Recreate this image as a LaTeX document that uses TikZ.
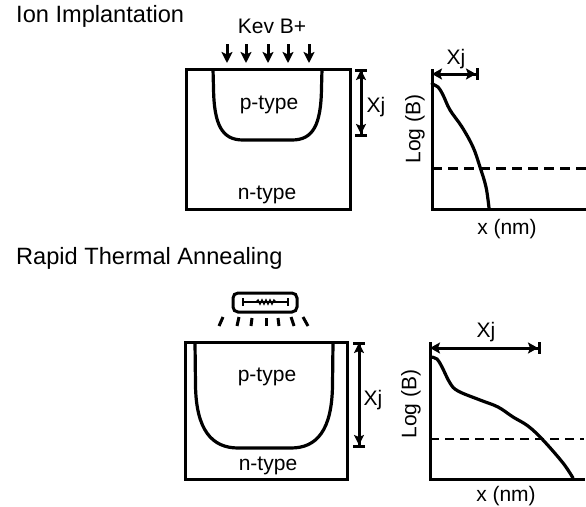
\documentclass[tikz,border=0pt]{standalone}
\usepackage{fontspec}
\setmainfont{Liberation Sans}
\usetikzlibrary{arrows.meta}
\tikzset{
  lbl/.style={inner sep=0pt,font=\fontsize{21}{24}\selectfont},
  ttl/.style={inner sep=0pt,anchor=west,font=\fontsize{23.6}{27}\selectfont},
  thick line/.style={line width=3.2pt},
  boxline/.style={line width=3pt,line join=miter},
  prof/.style={line width=3.2pt,line cap=round},
  dim/.style={line width=3pt,{Bar[width=12pt,line width=3pt]Stealth[length=10pt,width=10pt,inset=2pt,sep=-2pt]}-{Stealth[length=10pt,width=10pt,inset=2pt]Bar[width=12pt,line width=3pt]}},
  dimx/.style={line width=3pt,{Stealth[length=10pt,width=11pt,inset=2pt]}-{Stealth[length=10pt,width=11pt,inset=2pt]Bar[width=12pt,line width=3pt]}},
  dash line/.style={line width=3pt,dash pattern=on 10pt off 6pt},
  ion/.style={line width=3pt,-{Stealth[length=11pt,width=11pt,inset=2.5pt]}},
  ray/.style={line width=3pt},
}
\begin{document}
\begin{tikzpicture}[x=1pt,y=-1pt]
\useasboundingbox (0,0) rectangle (586,506);
% titles
\node[ttl] (t1) at (16,16) {Ion Implantation};
\node[ttl] (t2) at (16,258) {Rapid Thermal Annealing};
% top device
\node[lbl] (kev) at (272,26.5) {Kev B+};
\foreach \n/\x in {a/227,b/246,c/268,d/288,e/309}{
  \coordinate (s\n) at (\x,44);
  \coordinate (f\n) at (\x,63);
  \draw[ion] (s\n) -- (f\n);
}
\draw[boxline] (186,69) rectangle (350,209);
\draw[thick line] (213,69) -- (213.5,88) .. controls (214,125) and (222,140) .. (243,140)
  -- (292,140) .. controls (313,140) and (321,125) .. (321.5,88) -- (322,69);
\node[lbl] (p1) at (269,105) {p-type};
\node[lbl] (n1) at (267,195) {n-type};
\coordinate (d1a) at (361,69);
\coordinate (d1b) at (361,137);
\draw[dim] (d1a) -- (d1b);
\node[lbl] (x1) at (376,107.5) {Xj};
% top profile
\coordinate (o1) at (432,209);
\coordinate (y1) at (432,69);
\coordinate (r1) at (586,209);
\draw[boxline] (y1) -- (o1) -- (r1);
\coordinate (dl1) at (432,168);
\coordinate (dr1) at (586,168);
\draw[dash line] (dl1) -- (dr1);
\coordinate (a1a) at (432,74);
\coordinate (a1b) at (479,74);
\draw[dimx] (a1a) -- (a1b);
\node[lbl] (xt1) at (456,59) {Xj};
\draw[prof] plot[smooth,tension=0.6] coordinates {(432,84) (438,87) (443,95) (450,110) (462,127) (473,147) (480,167) (486,187) (489,208)};
\node[lbl,rotate=90] (lb1) at (415,129) {Log (B)};
\node[lbl] (xn1) at (507,229) {x (nm)};
% lamp
\draw[line width=3pt,rounded corners=5pt] (233,293) rectangle (297,312);
\coordinate (la) at (242,302);
\coordinate (lb) at (289,302);
\draw[line width=2pt,{Bar[width=8pt,line width=2pt]}-{Bar[width=8pt,line width=2pt]}] (la) -- (lb);
\draw[line width=1.4pt] (256,302) -- (258,300) -- (260,304) -- (262,300) -- (264,304) -- (266,300) -- (268,304) -- (270,300) -- (272,304) -- (274,300) -- (276,302);
\foreach \n/\xa/\ya/\xb/\yb in {1/219/326/223/317,2/237/326/239/317,3/251/326/252/318,4/266/326/266/318,5/279/326/278/318,6/294/326/291/317,7/308/326/303/317}{
  \coordinate (ra\n) at (\xa,\ya);
  \coordinate (rb\n) at (\xb,\yb);
  \draw[ray] (ra\n) -- (rb\n);
}
% bottom device
\draw[boxline] (185,342) rectangle (347,479);
\draw[thick line] (195,342) -- (195.5,385) .. controls (196,430) and (212,448) .. (238,448)
  -- (291,448) .. controls (317,448) and (332,430) .. (332.5,385) -- (333,342);
\node[lbl] (p2) at (267,377) {p-type};
\node[lbl] (n2) at (268,466) {n-type};
\coordinate (d2a) at (359,342);
\coordinate (d2b) at (359,448);
\draw[dim] (d2a) -- (d2b);
\node[lbl] (x2) at (373,400) {Xj};
% bottom profile
\coordinate (o2) at (430,479);
\coordinate (y2) at (430,342);
\coordinate (r2) at (585,479);
\draw[boxline] (y2) -- (o2) -- (r2);
\coordinate (dl2) at (430,439);
\coordinate (dr2) at (584,439);
\draw[dash line,line width=2.8pt,dash pattern=on 9pt off 6pt] (dl2) -- (dr2);
\coordinate (a2a) at (430,348);
\coordinate (a2b) at (541,348);
\draw[dimx] (a2a) -- (a2b);
\node[lbl] (xt2) at (486,332) {Xj};
\draw[prof] plot[smooth,tension=0.6] coordinates {(431,357) (437,359) (442,367) (450,383) (458,391) (480,400) (498,407) (513,417) (528,426) (543,440) (563,463) (573,478)};
\node[lbl,rotate=90] (lb2) at (411,404) {Log (B)};
\node[lbl] (xn2) at (506,496) {x (nm)};
\end{tikzpicture}
\end{document}
